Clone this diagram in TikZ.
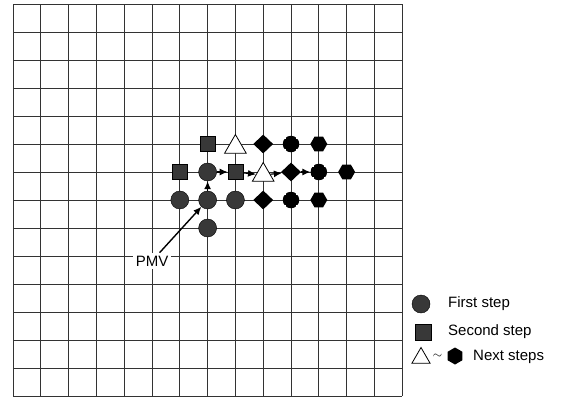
\documentclass[tikz,border=0pt]{standalone}
\usepackage{fontspec}
\setmainfont{Liberation Sans}
\usetikzlibrary{shapes.geometric,arrows.meta}
\begin{document}
\begin{tikzpicture}[x=1pt,y=-1pt,
  gridline/.style={draw=black!80,line width=0.8pt},
  firststep/.style={circle,fill=black!78,draw=black,line width=0.4pt,minimum size=18pt,inner sep=0pt},
  secondstep/.style={rectangle,fill=black!78,draw=black,line width=0.4pt,minimum size=15pt,inner sep=0pt},
  tri/.style={regular polygon,regular polygon sides=3,fill=white,draw=black,line width=0.8pt,minimum size=25pt,inner sep=0pt},
  dia/.style={diamond,fill=black,minimum width=20pt,minimum height=19pt,inner sep=0pt},
  hexa/.style={regular polygon,regular polygon sides=6,fill=black,minimum size=17pt,inner sep=0pt},
  plusnode/.style={circle,minimum size=16.5pt,inner sep=0pt,
    path picture={
      \fill (path picture bounding box.center) ++(-9,-5.2) rectangle ++(18,10.4);
      \fill (path picture bounding box.center) ++(-5.2,-9) rectangle ++(10.4,18);}},
  link/.style={line width=1.2pt,-{Latex[length=8pt,width=7pt]}},
  lbl/.style={font=\fontsize{15}{18}\selectfont,inner sep=2pt},
]
\useasboundingbox[fill=white] (0,0) rectangle (561,397);
% grid
\foreach \i in {0,...,14}{
  \draw[gridline] ({13+27.8*\i},4) -- ({13+27.8*\i},396);
  \draw[gridline] (13,{4+28*\i}) -- (402,{4+28*\i});
}
% first step
\node[firststep] (f0) at (207.6,200) {};
\node[firststep] (f1) at (207.6,172) {};
\node[firststep] (f2) at (179.8,200) {};
\node[firststep] (f3) at (235.4,200) {};
\node[firststep] (f4) at (207.6,228) {};
% second step
\node[secondstep] (s1) at (207.6,144) {};
\node[secondstep] (s2) at (179.8,172) {};
\node[secondstep] (s3) at (235.4,172) {};
% next steps
\node[tri,yshift=-3pt] (t1) at (235.4,144) {};
\node[tri,yshift=-3pt] (t2) at (263.2,172) {};
\node[dia] (d1) at (263.2,144) {};
\node[dia] (d2) at (291,172) {};
\node[dia] (d3) at (263.2,200) {};
\node[plusnode] (p1) at (291,144) {};
\node[plusnode] (p2) at (318.8,172) {};
\node[plusnode] (p3) at (291,200) {};
\node[hexa] (h1) at (318.8,144) {};
\node[hexa] (h2) at (318.8,200) {};
\node[hexa] (h3) at (346.6,172) {};
% search path
\draw[link] (f0) -- (f1);
\draw[link] (f1) -- (s3);
\draw[link] (s3) -- (t2);
\draw[link] (t2) -- (d2);
\draw[link] (d2) -- (p2);
% PMV label
\node[lbl,fill=white,inner sep=3pt] (pmv) at (152,261) {PMV};
\draw[link,line width=1.4pt] (pmv) -- (f0);
% legend
\node[firststep] (lf) at (421,304) {};
\node[secondstep,minimum size=16pt] (ls) at (423,332) {};
\node[tri,minimum size=21pt] (lt) at (421,358) {};
\node[font=\fontsize{12}{14}\selectfont,inner sep=0pt] (ltil) at (437.5,356) {$\sim$};
\node[hexa,minimum size=17pt,shape border rotate=90] (lh) at (455,356) {};
\node[lbl,anchor=west] (lfs) at (446,304) {First step};
\node[lbl,anchor=west] (lss) at (446,332) {Second step};
\node[lbl,anchor=west] (lns) at (471,357) {Next steps};
\end{tikzpicture}
\end{document}
